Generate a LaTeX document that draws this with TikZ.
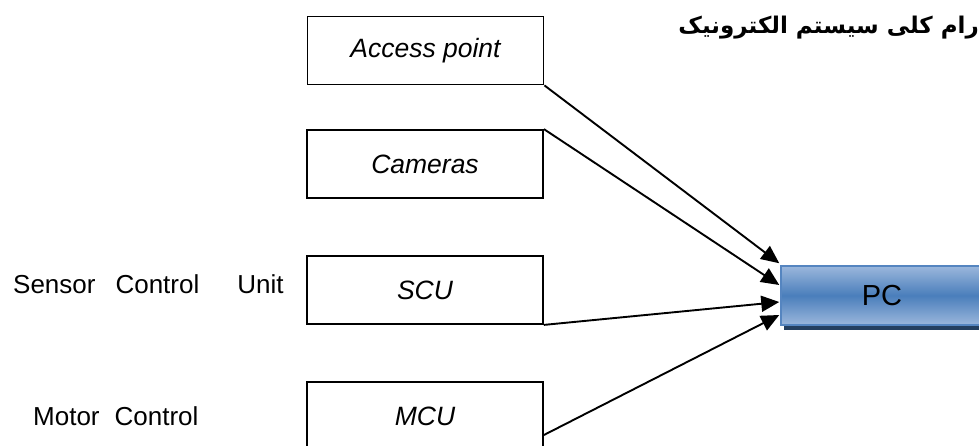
\documentclass[tikz,border=0pt]{standalone}
\usepackage{fontspec}
\setmainfont{Liberation Sans}
\newfontfamily\arabicfont[Script=Arabic]{DejaVu Sans}
\TeXXeTstate=1
\usetikzlibrary{arrows.meta,calc}
\definecolor{pcmid}{HTML}{4A7EBB}
\definecolor{pclight}{HTML}{9BB7DC}
\definecolor{pcedge}{HTML}{5585C0}
\definecolor{pcshadow}{HTML}{243F60}
\tikzset{
  box/.style={draw, line width=1.8pt, minimum width=236pt, minimum height=68pt, inner sep=0pt,
    font=\fontsize{26.5}{30}\selectfont\itshape},
  pcbox/.style={draw=pcedge, line width=1.5pt, top color=pclight, bottom color=pclight, middle color=pcmid,
    minimum width=202pt, minimum height=59pt, inner sep=0pt, font=\fontsize{29}{32}\selectfont},
  conn/.style={line width=1.9pt, -{Triangle[length=18pt,width=16pt]}},
  sidelabel/.style={anchor=base west, inner sep=0pt, font=\fontsize{26}{30}\selectfont}
}
\begin{document}
\begin{tikzpicture}[x=1pt,y=-1pt]
\useasboundingbox (0,0) rectangle (979,446);
\clip (0,0) rectangle (979,446);
\node[box] (ap) at (425.5,50.5) {Access point};
\node[box] (cam) at (425,164) {Cameras};
\node[box] (scu) at (425,290) {SCU};
\node[box] (mcu) at (425,416) {MCU};
\fill[pcshadow] (784,270) rectangle (990,330);
\node[pcbox] (pc) at (882,295.5) {PC};
\draw[conn] (ap.south east) -- ($(pc.north west)+(-1,-2)$);
\draw[conn] (cam.north east) -- ($(pc.west)+(-1,-10.5)$);
\draw[conn] (scu.south east) -- ($(pc.west)+(-1,6.5)$);
\draw[conn] ($(mcu.east)+(0,19)$) -- ($(pc.west)+(-1,19.5)$);
\node[sidelabel] (scul) at (13,293) {Sensor\hspace{20pt}Control\hspace{38pt}Unit};
\node[sidelabel] (mcul) at (33,425) {Motor\hspace{15pt}Control};
\node[anchor=base east, inner sep=0pt, font=\fontsize{23}{28}\selectfont\bfseries] (title) at (979,34)
  {\arabicfont\beginR رام کلی سیستم الکترونیک\endR};
\end{tikzpicture}
\end{document}
